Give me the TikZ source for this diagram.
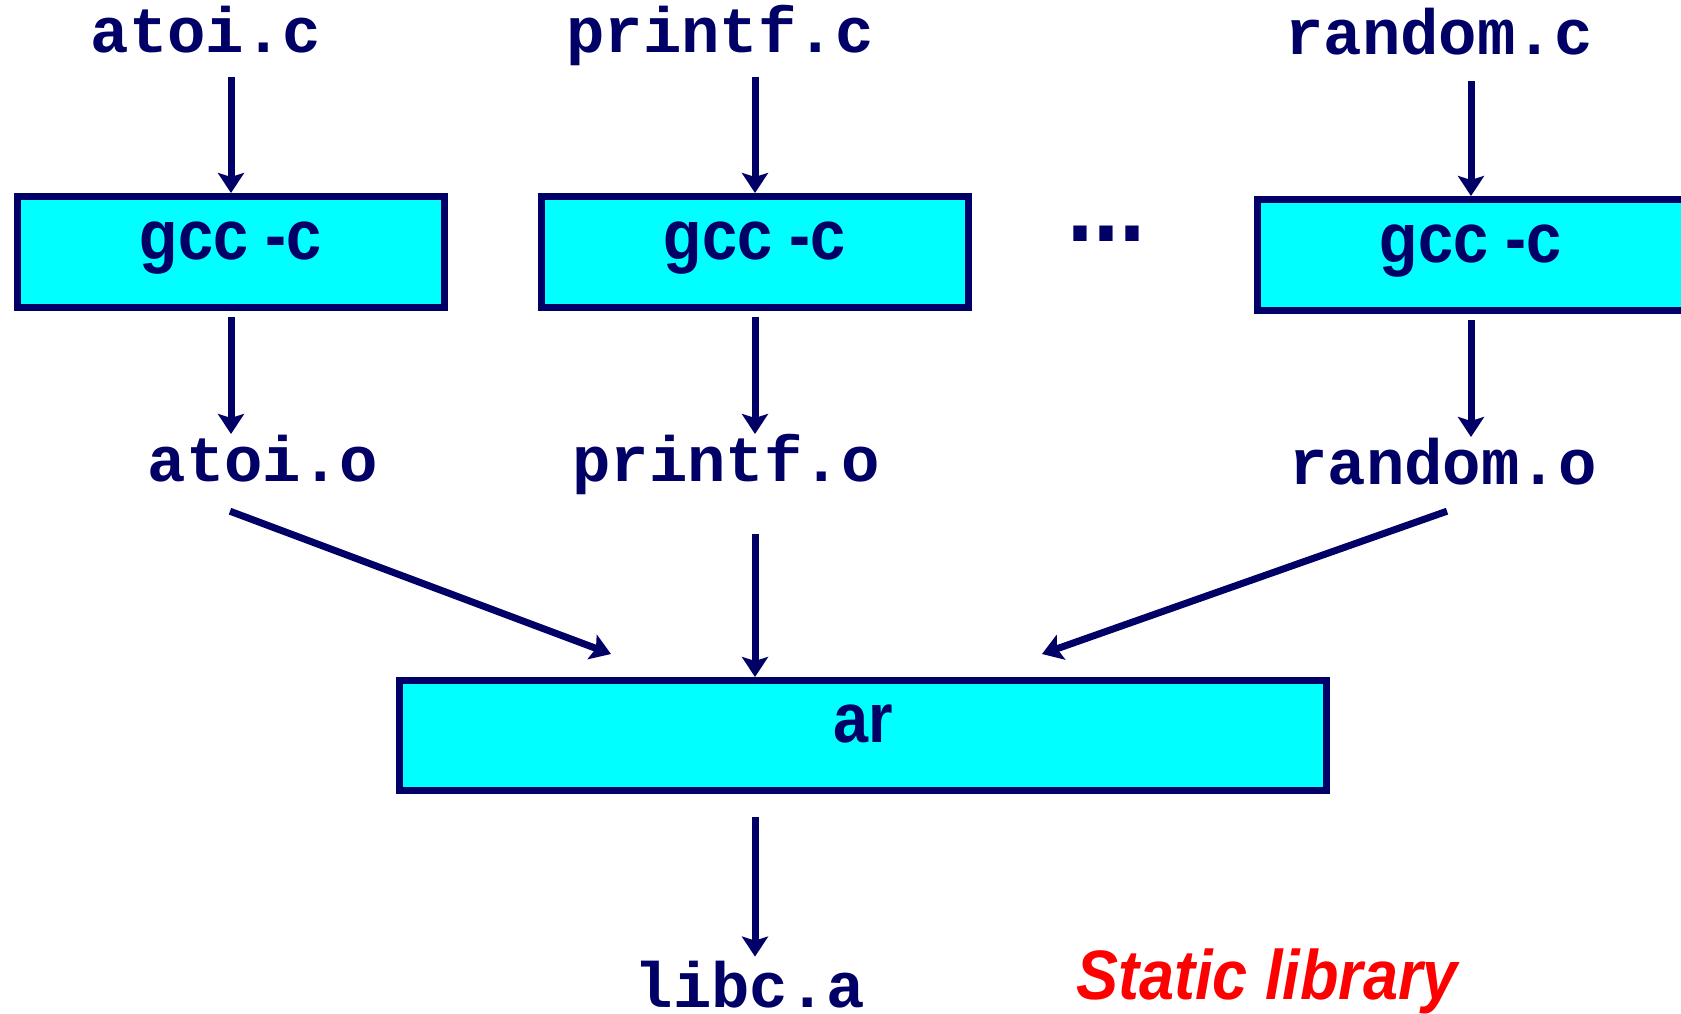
\documentclass[tikz,border=0pt]{standalone}
\usepackage{fontspec}
\setmonofont{Liberation Mono}
\newfontfamily\boxfont[FakeStretch=0.9]{Liberation Sans}
\usetikzlibrary{arrows.meta,calc}
\definecolor{navy}{RGB}{0,0,102}
\definecolor{boxcyan}{RGB}{0,255,255}
\tikzset{
  file/.style={anchor=base,inner sep=0pt,text height=19pt,text depth=6.4pt,text=navy,
    font=\ttfamily\bfseries\fontsize{32pt}{36pt}\selectfont},
  tool/.style={draw=navy,fill=boxcyan,line width=3.5pt,minimum width=213.5pt,minimum height=55.5pt,
    text height=15pt,text depth=7.7pt,text=navy,font=\boxfont\bfseries\fontsize{35pt}{40pt}\selectfont},
  arr/.style={draw=navy,line width=3.5pt,-{Stealth[length=10pt,width=13pt,inset=2pt]}}
}
\begin{document}
\begin{tikzpicture}[x=0.5pt,y=-0.5pt]
  \path[use as bounding box,fill=white] (0,0) rectangle (1681,1013);
  % sources
  \node[file](atoic) at (206,52){atoi.c};
  \node[file](printfc) at (720,52){printf.c};
  \node[file](randomc) at (1439,54){random.c};
  % compile
  \node[tool](gccatoi) at (231,252){gcc -c};
  \node[tool](gccprintf) at (755,252){gcc -c};
  \node[tool](gccrandom) at (1471,255){gcc -c};
  \node[text=navy,font=\boxfont\bfseries\fontsize{52pt}{56pt}\selectfont](dots) at (1106,234){...};
  % objects
  \node[file](atoio) at (263,481){atoi.o};
  \node[file](printfo) at (726,481){printf.o};
  \node[file](randomo) at (1443,484){random.o};
  % archive
  \node[tool,minimum width=463.5pt,minimum height=55pt](ar) at (863,735.5){ar};
  \node[file,text depth=0pt](libca) at (750,1007){libc.a};
  \node[anchor=base,text=red,font=\boxfont\bfseries\itshape\fontsize{35pt}{40pt}\selectfont](static) at (1267,999){Static library};

  \draw[arr,shorten <=6pt] (atoic.south -| gccatoi) -- (gccatoi);
  \draw[arr,shorten <=6pt] (printfc.south -| gccprintf) -- (gccprintf);
  \draw[arr,shorten <=7pt] (randomc.south -| gccrandom) -- (gccrandom);
  \draw[arr,shorten <=3pt,shorten >=4.3pt] (gccatoi) -- (gccatoi |- atoio.north);
  \draw[arr,shorten <=3pt,shorten >=4.3pt] (gccprintf) -- (gccprintf |- printfo.north);
  \draw[arr,shorten <=3pt,shorten >=4.3pt] (gccrandom) -- (gccrandom |- randomo.north);
  \draw[arr] ($(atoio.south)+(-33,17)$) -- ($(ar.north)+(-252,-23)$);
  \draw[arr,shorten <=20pt] (printfo.south -| gccprintf) -- (gccprintf |- ar.north);
  \draw[arr] ($(randomo.south)+(4,14)$) -- ($(ar.north)+(179,-23)$);
  \draw[arr,shorten <=11.5pt,shorten >=6pt] (ar.south -| gccprintf) -- (gccprintf |- libca.north);
\end{tikzpicture}
\end{document}
